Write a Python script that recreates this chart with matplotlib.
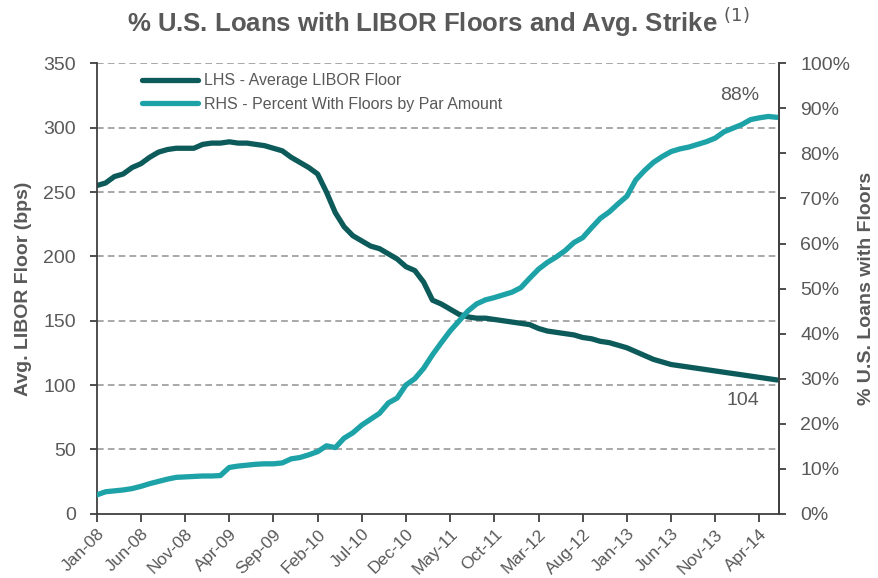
import matplotlib
matplotlib.use("Agg")
import matplotlib.pyplot as plt
from matplotlib.ticker import FuncFormatter

plt.rcParams['font.family'] = ['Liberation Sans', 'DejaVu Sans']

# Monthly series, Jan-08 through Jun-14
avg_floor_bps = [
    255, 257, 262, 264, 269, 272, 277, 281, 283, 284,
    284, 284, 287, 288, 288, 289, 288, 288, 287, 286,
    284, 282, 277, 273, 269, 264, 250, 234, 223, 216,
    212, 208, 206, 202, 198, 192, 189, 180, 166, 163,
    159, 155, 153, 152, 152, 151, 150, 149, 148, 147,
    144, 142, 141, 140, 139, 137, 136, 134, 133, 131,
    129, 126, 123, 120, 118, 116, 115, 114, 113, 112,
    111, 110, 109, 108, 107, 106, 105, 104,
]
pct_with_floors = [
    4.2, 4.9, 5.1, 5.3, 5.6, 6.1, 6.7, 7.2, 7.7, 8.1,
    8.2, 8.3, 8.4, 8.4, 8.5, 10.3, 10.6, 10.8, 11.0, 11.1,
    11.1, 11.3, 12.2, 12.5, 13.1, 13.8, 15.1, 14.7, 16.8, 18.0,
    19.7, 21.0, 22.3, 24.6, 25.7, 28.6, 30.0, 32.3, 35.3, 38.0,
    40.6, 42.8, 45.0, 46.6, 47.5, 48.0, 48.6, 49.2, 50.2, 52.3,
    54.3, 55.8, 57.0, 58.4, 60.2, 61.3, 63.5, 65.6, 67.0, 68.8,
    70.5, 74.1, 76.2, 78.0, 79.3, 80.4, 81.0, 81.4, 82.0, 82.6,
    83.4, 84.8, 85.6, 86.4, 87.5, 87.9, 88.2, 88.0,
]
tick_positions = list(range(0, 80, 5))
tick_labels = [
    'Jan-08', 'Jun-08', 'Nov-08', 'Apr-09', 'Sep-09', 'Feb-10', 'Jul-10', 'Dec-10',
    'May-11', 'Oct-11', 'Mar-12', 'Aug-12', 'Jan-13', 'Jun-13', 'Nov-13', 'Apr-14',
]

dark = '#0D5A5A'
light = '#1DA2A7'
grey_text = '#595959'
axis_col = '#404040'

months = list(range(len(avg_floor_bps)))

fig = plt.figure(figsize=(8.79, 5.78), dpi=100)
ax = fig.add_axes([0.110, 0.111, 0.7766, 0.7795])
ax2 = ax.twinx()

l1, = ax.plot(months, avg_floor_bps, color=dark, lw=3.8, solid_capstyle='round',
              label='LHS - Average LIBOR Floor')
l2, = ax2.plot(months, pct_with_floors, color=light, lw=3.8, solid_capstyle='round',
               label='RHS - Percent With Floors by Par Amount')

ax.set_xlim(0, len(months) - 0.75)
ax.set_ylim(0, 350)
ax.set_yticks(range(0, 351, 50))
ax2.set_ylim(0, 100)
ax2.set_yticks(range(0, 101, 10))
ax2.yaxis.set_major_formatter(FuncFormatter(lambda v, _: f'{v:.0f}%'))

ax.set_xticks(tick_positions)
ax.set_xticklabels(tick_labels, rotation=45, ha='right', rotation_mode='anchor')

# dashed horizontal grid from the left scale
for v in range(50, 351, 50):
    ax.axhline(v, color='#999999', lw=1.2, ls=(0, (4, 2.5)), zorder=0)

for a in (ax, ax2):
    a.spines['top'].set_visible(False)
    for s in ('left', 'right', 'bottom'):
        a.spines[s].set_color(axis_col)
        a.spines[s].set_linewidth(1.3)
    a.tick_params(colors=axis_col, labelcolor=grey_text, labelsize=14, width=1.3, length=5)
ax.tick_params(axis='y', pad=10)
ax2.tick_params(axis='y', pad=10)
ax.tick_params(axis='x', labelsize=12.5, length=6, pad=3)
ax2.spines['left'].set_visible(False)
ax2.spines['bottom'].set_visible(False)

ax.set_ylabel('Avg. LIBOR Floor (bps)', fontsize=14, fontweight='bold', color=grey_text, labelpad=8)
ax2.set_ylabel('% U.S. Loans with Floors', fontsize=14, fontweight='bold', color=grey_text,
               rotation=90, labelpad=6)

fig.text(0.499, 0.962, '% U.S. Loans with LIBOR Floors and Avg. Strike $^{(1)}$',
         ha='center', va='center', fontsize=18.5, fontweight='bold', color=grey_text)

# end-point value labels
ax2.annotate(f'{pct_with_floors[-1]:.0f}%', (months[-1], pct_with_floors[-1]),
             xytext=(-27, 16), textcoords='offset points', ha='center', va='center',
             fontsize=14, color=grey_text)
ax.annotate(f'{avg_floor_bps[-1]:.0f}', (months[-1], avg_floor_bps[-1]),
            xytext=(-25, -15), textcoords='offset points', ha='center', va='center',
            fontsize=14, color=grey_text)

leg = ax2.legend(handles=[l1, l2], loc='upper left', bbox_to_anchor=(0.045, 1.01),
                 frameon=False, fontsize=11.5, handlelength=3.5, handletextpad=0.4,
                 labelspacing=0.55)
for t in leg.get_texts():
    t.set_color(grey_text)

fig.savefig('out.png', dpi=100)
